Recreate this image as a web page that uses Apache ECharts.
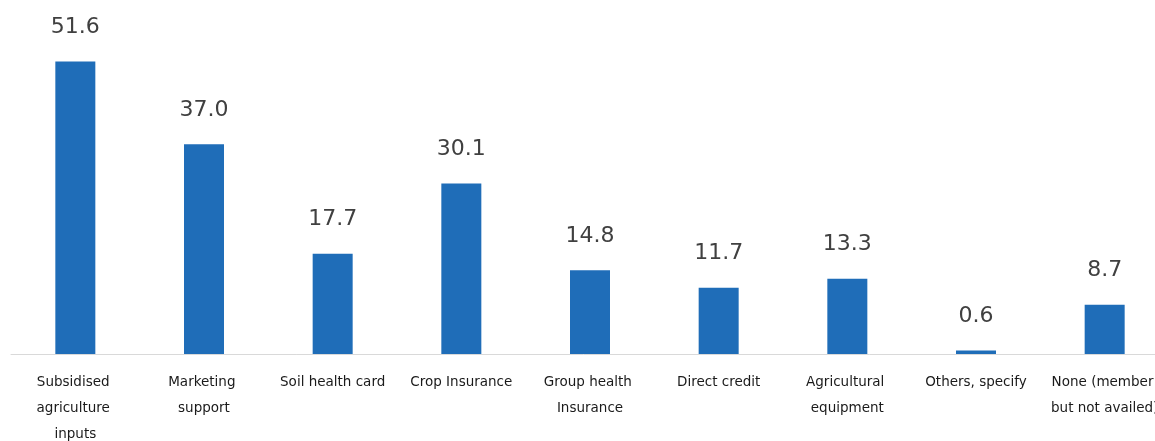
<!DOCTYPE html>
<html>
<head>
<meta charset="utf-8">
<script src="https://cdn.jsdelivr.net/npm/echarts@6/dist/echarts.min.js"></script>
<style>html,body{margin:0;padding:0;background:#fff;}#c{width:1155px;height:441px;}</style>
</head>
<body>
<div id="c"></div>
<script>
const categories = [
  "Subsidised agriculture inputs",
  "Marketing support",
  "Soil health card",
  "Crop Insurance",
  "Group health Insurance",
  "Direct credit",
  "Agricultural equipment",
  "Others, specify",
  "None (member but not availed)"
];
const values = [51.6, 37.0, 17.7, 30.1, 14.8, 11.7, 13.3, 0.6, 8.7];

const chart = echarts.init(document.getElementById('c'));
chart.setOption({
  animation: false,
  grid: { left: 11, width: 1158, top: 14, bottom: 87, containLabel: false, outerBoundsMode: 'none' },
  xAxis: {
    type: 'category',
    data: categories,
    axisLine: { lineStyle: { color: '#d9d9d9', width: 1 } },
    axisTick: { show: false },
    axisLabel: {
      interval: 0,
      margin: 15,
      width: 110,
      overflow: 'break',
      lineHeight: 26,
      fontFamily: 'DejaVu Sans',
      fontSize: 13.5,
      color: '#1a1a1a'
    }
  },
  yAxis: {
    type: 'value',
    min: 0,
    max: 60,
    show: false,
    splitLine: { show: false }
  },
  series: [{
    type: 'bar',
    data: values,
    barWidth: 40,
    itemStyle: { color: '#1f6db8' },
    label: {
      show: true,
      position: 'top',
      distance: 23,
      formatter: p => p.value.toFixed(1),
      fontFamily: 'DejaVu Sans',
      fontSize: 22,
      color: '#404040'
    }
  }]
});
</script>
</body>
</html>
